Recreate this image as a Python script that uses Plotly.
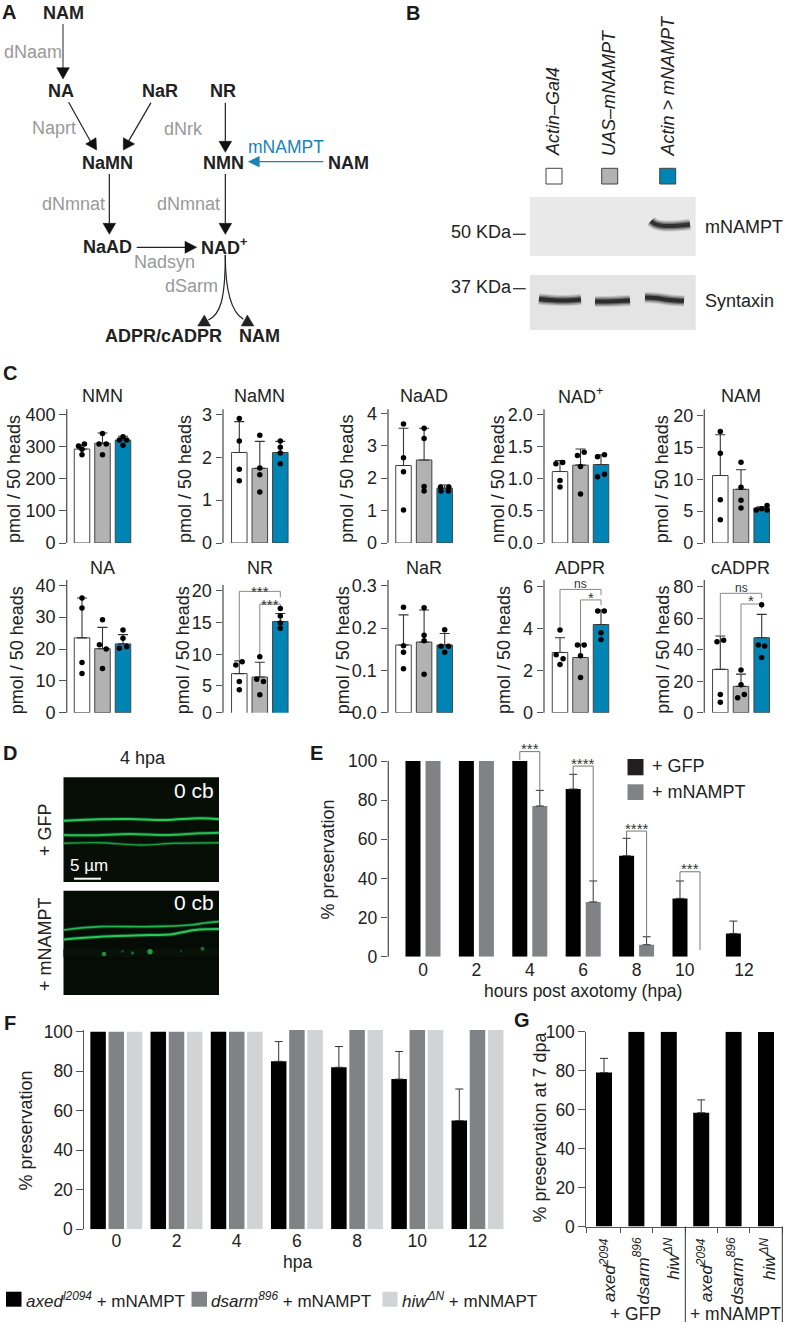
import plotly.graph_objects as go

W, H = 785, 1324
FONT = "Liberation Sans"
INK = "#222222"
AX = "#555555"
WHITE, GREY, BLUE = "#ffffff", "#b2b2b2", "#0084b4"
LABEL_GREY = "#999999"
ARROW_BLUE = "#1a82b5"
E_GREY = "#808285"
F_GREY, F_LIGHT = "#808285", "#d1d3d4"

# ---------- Panel C data (mean, top of error bar, dots per group, dot offsets per group)
NMN_mean = [292, 310, 320]
NMN_top = [305, 342, 332]
NMN_dots = [[301.5, 307.8, 291, 274], [340, 308, 308, 274], [330, 320, 320, 304]]
NMN_off = [[-0.17, 0.12, 0, 0], [0, -0.17, 0.18, 0], [0, -0.18, 0.18, 0]]

NaMN_mean = [2.11, 1.74, 2.11]
NaMN_top = [2.83, 2.37, 2.37]
NaMN_dots = [[2.9, 2.38, 1.72, 1.45], [2.51, 1.75, 1.59, 1.19], [2.38, 2.23, 2.1, 1.85]]
NaMN_off = [[0, 0, 0, 0], [0, 0, 0, 0], [0, 0, 0, 0]]

NaAD_mean = [2.39, 2.56, 1.69]
NaAD_top = [3.54, 3.54, 1.79]
NaAD_dots = [[3.67, 2.63, 2.2, 1.02], [3.54, 3.22, 1.74, 1.6], [1.73, 1.73, 1.6, 1.6]]
NaAD_off = [[0, 0, 0, 0], [0, 0, 0, 0], [-0.2, 0.2, -0.18, 0.18]]

NADp_mean = [1.11, 1.21, 1.22]
NADp_top = [1.28, 1.46, 1.37]
NADp_dots = [[1.23, 1.25, 0.97, 0.87], [1.36, 1.41, 1.19, 0.76], [1.34, 1.37, 1.03, 1.07]]
NADp_off = [[-0.2, 0.13, 0, 0], [-0.15, 0.18, 0, 0], [-0.17, 0.17, -0.17, 0.17]]

NAM_mean = [10.6, 8.43, 5.5]
NAM_top = [17.0, 11.5, 5.7]
NAM_dots = [[17.5, 14.1, 6.8, 3.66], [12.7, 8.74, 6.7, 5.5], [5.2, 5.4, 5.9, 5.2]]
NAM_off = [[0, 0, 0, 0], [0, 0, 0, 0], [-0.26, 0, 0.26, 0.26]]

NA_mean = [23.5, 20.1, 21.6]
NA_top = [36, 26.8, 24.5]
NA_dots = [[36, 32.9, 15.8, 12.3], [29.2, 21.3, 20, 13.9], [26, 23.4, 20.2, 20.7]]
NA_off = [[0, 0, 0, 0], [0, -0.15, 0.18, 0], [0, 0, -0.18, 0.18]]

NR_mean = [6.95, 6.4, 15.16]
NR_top = [8.95, 8.74, 16.4]
NR_dots = [[8.3, 8.8, 5.7, 4.4], [6.05, 5.7, 9.6, 3.6], [17.2, 16, 14.9, 14.1]]
NR_off = [[-0.17, 0.14, 0, 0], [-0.15, 0.18, 0, 0], [0, 0, 0, 0]]

NaR_mean = [0.16, 0.167, 0.16]
NaR_top = [0.231, 0.2425, 0.187]
NaR_dots = [[0.249, 0.158, 0.143, 0.104], [0.248, 0.183, 0.17, 0.091], [0.196, 0.157, 0.157, 0.143]]
NaR_off = [[0, 0, 0, 0], [0, 0, 0, 0], [0, -0.18, 0.18, 0]]

ADPR_mean = [2.87, 2.63, 4.2]
ADPR_top = [3.57, 3.27, 4.89]
ADPR_dots = [[3.94, 2.76, 2.57, 2.29], [3.22, 3.22, 2.71, 1.68], [4.84, 4.84, 3.81, 3.49]]
ADPR_off = [[0, -0.19, 0.15, 0], [-0.15, 0.18, 0, 0], [-0.16, 0.16, 0, 0]]

cADPR_mean = [27.5, 16.7, 47.6]
cADPR_top = [48.7, 24.5, 62.4]
cADPR_dots = [[45, 46, 11.6, 6.6], [27.1, 17.8, 9.5, 11.6], [68.6, 43, 42.3, 35.1]]
cADPR_off = [[-0.16, 0.16, 0, 0], [0, 0, -0.16, 0.16], [0, -0.16, 0.14, 0]]

NR_brackets = [(0, 2, 19.9, 9.1, 18.95), (1, 2, 17.9, 9.6, 17.26)]
ADPR_brackets = [(0, 2, 5.87, 4.1, 5.6), (1, 2, 5.37, 3.3, 5.13)]
cADPR_brackets = [(0, 2, 75.8, 49.3, 72.6), (1, 2, 69, 29.2, 66.2)]
NR_sig = [(1.03, 19.95, "***"), (1.5, 17.9, "***")]
ADPR_sig = [(1, 6.13, "ns"), (1.5, 5.5, "*")]
cADPR_sig = [(1, 78.9, "ns"), (1.5, 71, "*")]

# ---------- Panel E
E_hours = [0, 2, 4, 6, 8, 10, 12]
E_tick_pos = [0, 2, 4, 6, 8, 9.8, 12.02]
E_gfp = [100, 100, 100, 85.7, 51.6, 29.8, 11.9]
E_gfp_top = [None, None, None, 93.2, 60.5, 38.7, 18.2]
E_mn = [100, 100, 77, 28, 6.1, 0, 0]
E_mn_top = [None, None, 85, 38.7, 10.2, None, None]
E_brackets = [(3.625, 4.375, 104.8, 100.5, 85), (5.625, 6.375, 97.4, 93.2, 38.7),
              (7.625, 8.375, 64.2, 60.5, 10.2), (9.625, 10.375, 43.4, 38.7, 3.4)]
E_sig = ["***", "****", "****", "***"]

# ---------- Panel F
F_hours = [0, 2, 4, 6, 8, 10, 12]
F_axed = [100, 100, 100, 85, 82, 76, 55]
F_axed_top = [None, None, None, 95, 92.5, 90, 71]
F_dsarm = [100, 100, 100, 100.8, 100.8, 100.8, 100.8]
F_hiw = [100, 100, 100, 100.8, 100.8, 100.8, 100.8]

# ---------- Panel G
G_pos = [0, 1, 2, 3, 4, 5]
G_vals = [79, 100, 100, 58.4, 100, 99.8]
G_top = [86.3, None, None, 65, None, None]
G_names = ["axed", "dsarm", "hiw", "axed", "dsarm", "hiw"]
G_sups = ["2094", "896", "ΔN", "2094", "896", "ΔN"]

# ---------- Micrograph traces
axon_upper = [
    ([63.5, 100, 130, 165, 200, 219], [820.7, 819.3, 819, 820, 818.3, 819.3], 2.0, "#2ac95c"),
    ([63.5, 90, 130, 165, 200, 219], [835, 835.3, 834, 835, 833.3, 832.7], 2.0, "#27c056"),
    ([63.5, 100, 140, 175, 219], [843.3, 842.7, 845, 843.3, 842.7], 1.4, "#1e9c44"),
]
axon_lower = [
    ([63.5, 100, 150, 190, 205, 219], [930, 926.7, 926.7, 925, 923, 921.7], 1.7, "#24b550"),
    ([63.5, 100, 150, 170, 195, 219], [939.5, 936.7, 935, 934.5, 930, 929], 2.0, "#2ac95c"),
]
dots_x = [104, 122.5, 132.5, 150, 181, 202.5]
dots_y = [954, 951.3, 953, 951.7, 950.7, 948.7]
dots_s = [4.5, 3, 3.5, 5.5, 3, 4]
dots_c = ["#27c457", "#175c2a", "#1d8a3d", "#2bd45e", "#124a22", "#1f9a45"]

fig = go.Figure()
annos, shapes = [], []
layout_axes = {}
axis_no = [1]


def T(x, y, text, size=17, color=INK, anchor="center", yanchor="middle", angle=0):
    annos.append(dict(x=x, y=y, xref="x", yref="y", text=text, showarrow=False,
                      font=dict(family=FONT, size=size, color=color), xanchor=anchor,
                      yanchor=yanchor, textangle=angle, align="center"))


def rect(x0, y0, x1, y1, fill, line=None, lw=1, layer="above"):
    shapes.append(dict(type="rect", xref="x", yref="y", x0=x0, y0=y0, x1=x1, y1=y1,
                       fillcolor=fill, layer=layer,
                       line=dict(color=line or "rgba(0,0,0,0)", width=lw if line else 0)))


def seg(x0, y0, x1, y1, color=INK, lw=1.2, layer="above"):
    shapes.append(dict(type="line", xref="x", yref="y", x0=x0, y0=y0, x1=x1, y1=y1,
                       layer=layer, line=dict(color=color, width=lw)))


def tri(pts, color=INK):
    p = "M " + " L ".join(f"{a},{b}" for a, b in pts) + " Z"
    shapes.append(dict(type="path", xref="x", yref="y", path=p, fillcolor=color,
                       line=dict(color=color, width=0.5), layer="above"))


def curve(path, color=INK, lw=1.2):
    shapes.append(dict(type="path", xref="x", yref="y", path=path, layer="above",
                       line=dict(color=color, width=lw)))


def new_axes(px_left, px_right, px_top, px_bottom, xr, yr, xa=None, ya=None):
    axis_no[0] += 1
    n = axis_no[0]
    xd = dict(domain=[px_left / W, px_right / W], range=xr, anchor=f"y{n}", showgrid=False,
              zeroline=False, showline=False, ticks="", showticklabels=False, fixedrange=True)
    yd = dict(domain=[1 - px_bottom / H, 1 - px_top / H], range=yr, anchor=f"x{n}", showgrid=False,
              zeroline=False, showline=True, linecolor=AX, linewidth=1.3, ticks="outside",
              ticklen=6.5, tickwidth=1.2, tickcolor=AX, fixedrange=True,
              tickfont=dict(family=FONT, size=18, color=INK))
    xd.update(xa or {})
    yd.update(ya or {})
    layout_axes[f"xaxis{n}"] = xd
    layout_axes[f"yaxis{n}"] = yd
    return f"x{n}", f"y{n}"


def add_errors(xs, vals, tops, xa, ya, halfwidth=4):
    """Up-only error bars, only on the points that have one."""
    keep = [i for i, t in enumerate(tops) if t is not None]
    fig.add_trace(go.Scatter(x=[xs[i] for i in keep], y=[vals[i] for i in keep], mode="markers",
                             marker=dict(opacity=0, size=1), xaxis=xa, yaxis=ya, hoverinfo="skip",
                             error_y=dict(type="data", symmetric=False,
                                          array=[tops[i] - vals[i] for i in keep],
                                          arrayminus=[0] * len(keep), color="#333333",
                                          thickness=1, width=halfwidth)))


# canvas: one full-page axis pair in page pixels, used for the diagram and the photographs
layout_axes["xaxis"] = dict(domain=[0, 1], range=[0, W], visible=False, fixedrange=True)
layout_axes["yaxis"] = dict(domain=[0, 1], range=[H, 0], visible=False, fixedrange=True)
fig.add_trace(go.Scatter(x=[0], y=[0], mode="markers", marker=dict(opacity=0), xaxis="x", yaxis="y",
                         hoverinfo="skip"))

# ---------- panel letters
for x, y, s in [(9, 12, "A"), (413, 13, "B"), (10, 373, "C"), (10, 753, "D"), (316, 753, "E"),
                (10, 1023, "F"), (522, 1020, "G")]:
    T(x, y, f"<b>{s}</b>", size=20, color="#1a1a1a")

# ---------- panel A
for x, y, s in [(63, 13.3, "NAM"), (60.7, 91, "NA"), (160, 91, "NaR"), (223.3, 91, "NR"),
                (107.3, 162.7, "NaMN"), (223.3, 162.7, "NMN"), (348, 162.7, "NAM"),
                (107.3, 246.7, "NaAD"), (223.8, 246.7, "NAD<sup>+</sup>"),
                (163.3, 335.7, "ADPR/cADPR"), (259.3, 335.7, "NAM")]:
    T(x, y, f"<b>{s}</b>", size=18)
for x, y, s in [(33, 51.7, "dNaam"), (54, 127.7, "Naprt"), (183, 129, "dNrk"), (73.3, 204.3, "dNmnat"),
                (188.7, 204.3, "dNmnat"), (164.7, 261.7, "Nadsyn"), (191.7, 286, "dSarm")]:
    T(x, y, s, size=18, color=LABEL_GREY)
T(286, 147.3, "mNAMPT", size=17.5, color=ARROW_BLUE)


def Z(*v):
    return [a / 3 for a in v]


seg(*Z(189, 72, 189, 205), color="#777777", lw=1.6)
tri([Z(189, 237), Z(170, 203), Z(208, 203)], "#111111")
seg(*Z(206, 307, 272, 425))
tri([Z(290, 450), Z(257, 432), Z(288, 413)], "#111111")
seg(*Z(453, 308, 385, 425))
tri([Z(370, 450), Z(370, 413), Z(404, 432)], "#111111")
seg(*Z(676, 308, 676, 425))
tri([Z(676, 457), Z(657, 424), Z(695, 424)], "#111111")
seg(*Z(970, 485, 775, 485), color=ARROW_BLUE, lw=1.3)
tri([Z(745, 485), Z(778, 469), Z(778, 501)], ARROW_BLUE)
seg(*Z(328, 522, 328, 670))
tri([Z(328, 703), Z(309, 670), Z(347, 670)], "#111111")
seg(*Z(676, 522, 676, 670))
tri([Z(676, 703), Z(657, 670), Z(695, 670)], "#111111")
seg(*Z(410, 742, 555, 742))
tri([Z(590, 742), Z(555, 724), Z(555, 760)], "#111111")
curve("M 225.3,255 C 225.3,300 220,315 208.3,320")
curve("M 225.3,255 C 225.3,296 233,313 243.3,319.3")
tri([Z(593, 978), Z(632, 978), Z(613, 945)], "#222222")
tri([Z(724, 978), Z(762, 978), Z(742, 945)], "#222222")

# ---------- panel B
for x, s in [(553, "Actin–Gal4"), (609, "UAS–mNAMPT"), (667, "Actin > mNAMPT")]:
    T(x, 158.5, f"<i>{s}</i>", size=18, angle=-90, yanchor="bottom")
for x, c in [(546, WHITE), (601.7, GREY), (659.7, BLUE)]:
    rect(x, 168.3, x + 16, 184, c, line="#444444", lw=1)
rect(530, 197, 695.7, 256, "#e9e9e9", layer="below")
rect(530, 275, 695.7, 330, "#e4e4e4", layer="below")
T(481, 232, "50 KDa", size=18)
T(481, 287, "37 KDa", size=18)
seg(513, 234.3, 525.7, 234.3, color="#333333", lw=1.3)
seg(513, 288.7, 525.7, 288.7, color="#333333", lw=1.3)
T(703, 227, "mNAMPT", size=18, anchor="left")
T(703, 300.5, "Syntaxin", size=18, anchor="left")

band_glow = [(11, 0.14), (9, 0.2), (6.5, 0.4), (4, 0.8)]
for bx, by, col in [
    ([651, 655, 665, 680, 690], [221, 224, 226, 225.5, 224.5], "#222222"),
    ([539, 550, 565, 581], [299, 300, 300.5, 299.5], "#1c1c1c"),
    ([595, 605, 620, 630], [301.5, 301.5, 301, 300.5], "#1c1c1c"),
    ([645, 655, 670, 684], [297.5, 298, 300, 301], "#1c1c1c"),
]:
    for w, o in band_glow:
        fig.add_trace(go.Scatter(x=bx, y=by, mode="lines", xaxis="x", yaxis="y", hoverinfo="skip",
                                 opacity=o, line=dict(color=col, width=w, shape="spline")))

# ---------- panel D
rect(63.5, 777.3, 219, 882, "#060e06", layer="below")
rect(63.5, 890.7, 219, 995, "#050b05", layer="below")
rect(63.5, 949, 219, 957, "#071107", layer="below")
for lines in (axon_upper, axon_lower):
    for ax_x, ax_y, w, col in lines:
        fig.add_trace(go.Scatter(x=ax_x, y=ax_y, mode="lines", xaxis="x", yaxis="y", hoverinfo="skip",
                                 opacity=0.28, line=dict(color=col, width=w + 2, shape="spline")))
        fig.add_trace(go.Scatter(x=ax_x, y=ax_y, mode="lines", xaxis="x", yaxis="y", hoverinfo="skip",
                                 line=dict(color=col, width=w, shape="spline")))
fig.add_trace(go.Scatter(x=dots_x, y=dots_y, mode="markers", xaxis="x", yaxis="y", hoverinfo="skip",
                         marker=dict(size=dots_s, color=dots_c, line=dict(width=0))))
T(142.5, 758, "4 hpa", size=18)
T(216, 790.7, "0 cb", size=21, color="#ffffff", anchor="right")
T(216, 902.7, "0 cb", size=21, color="#ffffff", anchor="right")
T(88.5, 865.7, "5 µm", size=17, color="#ffffff")
seg(74, 878.7, 101, 878.7, color="#ffffff", lw=2)
T(45, 830, "+ GFP", size=18, angle=-90)
T(45, 944, "+ mNAMPT", size=18, angle=-90)

# ---------- panel C
COLS = [WHITE, GREY, BLUE]
#        title, y label, mean, top, dots, off, axis x, first bar centre, step, tickvals, ticktext,
#        px of first tick, px of last tick, px axis top, title x, label x
ROW1 = [
    ("NMN", "pmol / 50 heads", NMN_mean, NMN_top, NMN_dots, NMN_off, 66.7, 82, 20.5,
     [0, 100, 200, 300, 400], ["0", "100", "200", "300", "400"], 543, 414.3, 409.3, 102.3, 14),
    ("NaMN", "pmol / 50 heads", NaMN_mean, NaMN_top, NaMN_dots, NaMN_off, 223, 239.3, 20.5,
     [0, 1, 2, 3], ["0", "1", "2", "3"], 543, 414.3, 409.3, 259.3, 185),
    ("NaAD", "pmol / 50 heads", NaAD_mean, NaAD_top, NaAD_dots, NaAD_off, 388, 403.5, 20.6,
     [0, 1, 2, 3, 4], ["0", "1", "2", "3", "4"], 543, 413.3, 409.3, 424.3, 346.7),
    ("NAD<sup>+</sup>", "nmol / 50 heads", NADp_mean, NADp_top, NADp_dots, NADp_off, 544, 560, 20.5,
     [0, 0.5, 1, 1.5, 2], ["0.0", "0.5", "1.0", "1.5", "2.0"], 543, 414.3, 409.3, 580.3, 498.3),
    ("NAM", "pmol / 50 heads", NAM_mean, NAM_top, NAM_dots, NAM_off, 704.3, 720.3, 20.7,
     [0, 5, 10, 15, 20], ["0", "5", "10", "15", "20"], 543, 415.7, 409.3, 740.7, 662.3),
]
ROW2 = [
    ("NA", "pmol / 50 heads", NA_mean, NA_top, NA_dots, NA_off, 66.7, 82, 20.5,
     [0, 10, 20, 30, 40], ["0", "10", "20", "30", "40"], 712.7, 585.3, 580, 102.3, 17.3),
    ("NR", "pmol / 50 heads", NR_mean, NR_top, NR_dots, NR_off, 223, 239.3, 20.5,
     [0.79, 5, 10, 15, 20], ["0", "5", "10", "15", "20"], 712.7, 590.7, 585, 260, 183.3),
    ("NaR", "pmol / 50 heads", NaR_mean, NaR_top, NaR_dots, NaR_off, 388, 403.5, 20.6,
     [0, 0.1, 0.2, 0.3], ["0.0", "0.1", "0.2", "0.3"], 712.7, 585.7, 580, 424, 343.3),
    ("ADPR", "pmol / 50 heads", ADPR_mean, ADPR_top, ADPR_dots, ADPR_off, 544, 560, 20.5,
     [0, 2, 4, 6], ["0", "2", "4", "6"], 712.7, 586.7, 580, 580, 504),
    ("cADPR", "pmol / 50 heads", cADPR_mean, cADPR_top, cADPR_dots, cADPR_off, 704.3, 720.3, 20.7,
     [0, 20, 40, 60, 80], ["0", "20", "40", "60", "80"], 712.7, 586.7, 580, 740.7, 662.7),
]
EXTRAS = {"NR": (NR_brackets, NR_sig), "ADPR": (ADPR_brackets, ADPR_sig), "cADPR": (cADPR_brackets, cADPR_sig)}

for row, title_y, label_y in ((ROW1, 395.7, 479), (ROW2, 568.3, 650)):
    for (title, ylab, mean, top, dots, off, ax_x, c0, step, tv, tt, px0, px1, pxtop, tx, lx) in row:
        per = (px0 - px1) / (tv[-1] - tv[0])
        # headroom above the axis line is added so that brackets and their labels are kept
        headroom = 22 if title in EXTRAS else 0
        yr = [tv[0], tv[-1] + (px1 - pxtop + headroom) / per]
        right = c0 + 2 * step + 10
        xr = [(ax_x - c0) / step, (right - c0) / step]
        xa, ya = new_axes(ax_x, right, pxtop - headroom, px0, xr, yr,
                          ya=dict(tickmode="array", tickvals=tv, ticktext=tt, showline=False))
        seg(ax_x, pxtop, ax_x, px0, color=AX, lw=1.3)
        fig.add_trace(go.Bar(x=[0, 1, 2], y=mean, width=15.5 / step, xaxis=xa, yaxis=ya, hoverinfo="skip",
                             marker=dict(color=COLS, line=dict(color="#444444", width=1)),
                             error_y=dict(type="data", symmetric=False,
                                          array=[t - m for t, m in zip(top, mean)],
                                          arrayminus=[0, 0, 0], color="#333333", thickness=1.1, width=5)))
        if title in EXTRAS:
            for (a, b, ytop, left, rgt) in EXTRAS[title][0]:
                fig.add_trace(go.Scatter(x=[a, a, b, b], y=[left, ytop, ytop, rgt], mode="lines", xaxis=xa,
                                         yaxis=ya, hoverinfo="skip", cliponaxis=False,
                                         line=dict(color="#888888", width=1)))
            for (sx, sy, s) in EXTRAS[title][1]:
                annos.append(dict(x=sx, y=sy, xref=xa, yref=ya, text=s, showarrow=False,
                                  font=dict(family=FONT, size=12 if s == "ns" else 15, color="#333333")))
        for g in range(3):
            fig.add_trace(go.Scatter(x=[g + o for o in off[g]], y=dots[g], mode="markers", xaxis=xa, yaxis=ya,
                                     hoverinfo="skip", cliponaxis=False,
                                     marker=dict(color="#000000", size=5.5, line=dict(width=0))))
        T(tx, title_y, title, size=18)
        T(lx, label_y, ylab, size=18, angle=-90)

# ---------- panel E
xr = [(388.3 - 423) / 26.7, (750 - 423) / 26.7]
per = (956.7 - 761) / 100
xa, ya = new_axes(388.3, 750, 956.7 - 110 * per, 956.7, xr, [0, 110],
                  xa=dict(tickmode="array", tickvals=E_tick_pos, ticktext=[str(h) for h in E_hours],
                          showticklabels=True, ticks="", ticklabelstandoff=1,
                          tickfont=dict(family=FONT, size=17.5, color=INK)),
                  ya=dict(tickmode="array", tickvals=[0, 20, 40, 60, 80, 100], showline=False,
                          tickfont=dict(family=FONT, size=17.5, color=INK)))
seg(388.3, 761, 388.3, 956.7, color=AX, lw=1.3)
for vals, top, dx, col in ((E_gfp, E_gfp_top, -0.375, "#000000"), (E_mn, E_mn_top, 0.375, E_GREY)):
    xs = [h + dx for h in E_hours]
    fig.add_trace(go.Bar(x=xs, y=vals, width=15 / 26.7, xaxis=xa, yaxis=ya, hoverinfo="skip",
                         marker=dict(color=col, line=dict(width=0))))
    add_errors(xs, vals, top, xa, ya)
for (a, b, ytop, left, rgt), s in zip(E_brackets, E_sig):
    fig.add_trace(go.Scatter(x=[a, a, b, b], y=[left, ytop, ytop, rgt], mode="lines", xaxis=xa, yaxis=ya,
                             hoverinfo="skip", cliponaxis=False, line=dict(color="#777777", width=1)))
    annos.append(dict(x=(a + b) / 2, y=ytop + 1.5, xref=xa, yref=ya, text=s, showarrow=False,
                      font=dict(family=FONT, size=15, color="#333333")))
T(327.5, 860, "% preservation", size=18, angle=-90)
T(582.5, 991, "hours post axotomy (hpa)", size=17.5)
rect(627.5, 759, 643.5, 775.3, "#231f20")
rect(627.5, 784.3, 643.5, 800, E_GREY)
T(650, 766, "+ GFP", size=18, anchor="left")
T(650, 791.7, "+ mNAMPT", size=18, anchor="left")

# ---------- panel F
xr = [(84 - 116.3) / 30.1, (506 - 116.3) / 30.1]
per = (1229.3 - 1031.7) / 100
xa, ya = new_axes(84, 506, 1229.3 - 101 * per, 1229.3, xr, [0, 101],
                  xa=dict(tickmode="array", tickvals=F_hours, ticktext=[str(h) for h in F_hours],
                          showticklabels=True, ticks="", ticklabelstandoff=-1,
                          tickfont=dict(family=FONT, size=17.5, color=INK)),
                  ya=dict(tickmode="array", tickvals=[0, 20, 40, 60, 80, 100], tickfont=dict(family=FONT, size=17.5, color=INK)))
for vals, top, dx, col in ((F_axed, F_axed_top, -0.605, "#000000"), (F_dsarm, None, 0, F_GREY), (F_hiw, None, 0.605, F_LIGHT)):
    xs = [h + dx for h in F_hours]
    fig.add_trace(go.Bar(x=xs, y=vals, width=15.5 / 30.1, xaxis=xa, yaxis=ya, hoverinfo="skip",
                         marker=dict(color=col, line=dict(width=0))))
    if top is not None:
        add_errors(xs, vals, top, xa, ya)
T(25, 1130.5, "% preservation", size=18, angle=-90)
T(297.5, 1261.7, "hpa", size=17.5)
rect(6, 1291.7, 21.5, 1306.7, "#000000")
rect(191.5, 1291.7, 207, 1306.7, F_GREY)
rect(382.5, 1291.7, 397.5, 1306.7, F_LIGHT)
T(23.5, 1300, "<i>axed<sup>l2094</sup></i> + mNAMPT", size=17, anchor="left")
T(209, 1300, "<i>dsarm<sup>896</sup></i> + mNAMPT", size=17, anchor="left")
T(400, 1300, "<i>hiw<sup>ΔN</sup></i> + mNMAPT", size=17, anchor="left")

# ---------- panel G
xr = [(586 - 604) / 32.4, (782.5 - 604) / 32.4]
xa, ya = new_axes(586, 782.5, 1031.7, 1226.5, xr, [0, 100],
                  xa=dict(showline=True, linecolor=AX, linewidth=1.2, ticks="outside", ticklen=5, tickwidth=1,
                          tickcolor=AX, tickmode="array", tickvals=[-0.555, 0.494, 1.5, 2.5, 3.5, 4.5, 5.5]),
                  ya=dict(tickmode="array", tickvals=[0, 20, 40, 60, 80, 100], tickfont=dict(family=FONT, size=17.5, color=INK)))
fig.add_trace(go.Bar(x=G_pos, y=G_vals, width=16 / 32.4, xaxis=xa, yaxis=ya, hoverinfo="skip",
                     marker=dict(color="#000000", line=dict(width=0))))
add_errors(G_pos, G_vals, G_top, xa, ya)
for x, name, sup in zip([608, 641, 671.7, 705, 735, 768], G_names, G_sups):
    T(x, 1236, f"<i>{name}<sup>{sup}</sup></i>", size=17, angle=-90, yanchor="top")
T(539, 1127.5, "% preservation at 7 dpa", size=18, angle=-90)
T(635, 1314, "+ GFP", size=17.5)
T(735.7, 1314, "+ mNAMPT", size=17.5)
seg(685.3, 1226.5, 685.3, 1322, color="#333333", lw=1)
seg(782.3, 1226.5, 782.3, 1322, color="#333333", lw=1)

fig.update_layout(width=W, height=H, margin=dict(l=0, r=0, t=0, b=0, pad=0, autoexpand=False), showlegend=False,
                  paper_bgcolor="#ffffff", plot_bgcolor="rgba(0,0,0,0)", barmode="overlay",
                  annotations=annos, shapes=shapes, font=dict(family=FONT, color=INK),
                  **layout_axes)
fig.write_html("out.html", config=dict(displayModeBar=False),
               post_script="document.body.style.margin='0';document.body.style.overflow='hidden';")
